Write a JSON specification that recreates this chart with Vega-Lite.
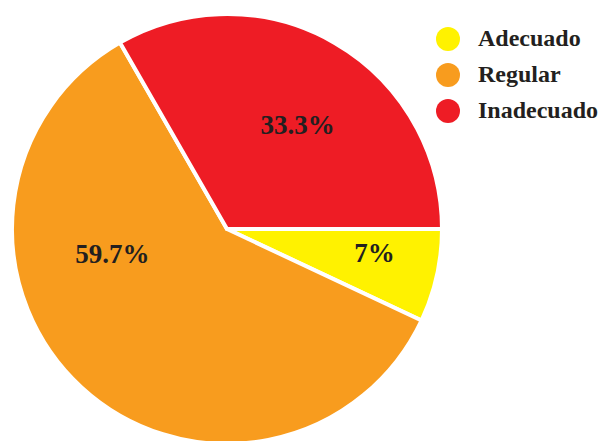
{
  "$schema": "https://vega.github.io/schema/vega-lite/v6.json",
  "autosize": {"type": "none"},
  "padding": {"left": 0, "top": 0, "right": 146, "bottom": 0},
  "width": 454,
  "height": 458,
  "background": "white",
  "config": {
    "view": {"stroke": null},
    "font": "Times New Roman, serif",
    "legend": {"labelFont": "Times New Roman, serif", "labelFontWeight": "bold"}
  },
  "data": {
    "values": [
      {"categoria": "Adecuado", "porcentaje": 7, "orden": 1, "etiqueta": "7%"},
      {"categoria": "Regular", "porcentaje": 59.7, "orden": 2, "etiqueta": "59.7%"},
      {"categoria": "Inadecuado", "porcentaje": 33.3, "orden": 3, "etiqueta": "33.3%"}
    ]
  },
  "transform": [
    {"stack": "porcentaje", "groupby": [], "sort": [{"field": "orden", "order": "ascending"}], "as": ["p0", "p1"]},
    {"calculate": "(datum.p0 + datum.p1) / 2", "as": "pm"}
  ],
  "layer": [
    {
      "mark": {"type": "arc", "outerRadius": 215, "stroke": "white", "strokeWidth": 4},
      "encoding": {
        "theta": {"field": "p0", "type": "quantitative", "scale": {"domain": [0, 100], "range": [1.5708, 7.854]}},
        "theta2": {"field": "p1"},
        "color": {
          "field": "categoria",
          "type": "nominal",
          "scale": {"domain": ["Adecuado", "Regular", "Inadecuado"], "range": ["#FFF200", "#F89C1E", "#EE1C25"]},
          "legend": {
            "title": null,
            "orient": "none",
            "legendX": 436,
            "legendY": 27,
            "padding": 0,
            "symbolType": "circle",
            "symbolSize": 576,
            "symbolStrokeWidth": 0,
            "symbolOpacity": 1,
            "labelFont": "Times New Roman, serif",
            "labelFontWeight": "bold",
            "labelFontSize": 24,
            "labelColor": "#231F20",
            "labelOffset": 18,
            "rowPadding": 12,
            "labelLimit": 300
          }
        }
      }
    },
    {
      "transform": [{"filter": "datum.categoria == 'Inadecuado'"}],
      "mark": {"type": "text", "radius": 125, "dx": 8, "dy": 5, "font": "Times New Roman, serif", "fontWeight": "bold", "fontSize": 27, "color": "#231F20", "align": "center", "baseline": "middle"},
      "encoding": {"theta": {"field": "pm", "type": "quantitative"}, "text": {"field": "etiqueta"}}
    },
    {
      "transform": [{"filter": "datum.categoria == 'Regular'"}],
      "mark": {"type": "text", "radius": 117.6, "dx": -35, "dy": -60, "font": "Times New Roman, serif", "fontWeight": "bold", "fontSize": 27, "color": "#231F20", "align": "center", "baseline": "middle"},
      "encoding": {"theta": {"field": "pm", "type": "quantitative"}, "text": {"field": "etiqueta"}}
    },
    {
      "transform": [{"filter": "datum.categoria == 'Adecuado'"}],
      "mark": {"type": "text", "radius": 149, "dx": 2, "dy": -8, "font": "Times New Roman, serif", "fontWeight": "bold", "fontSize": 27, "color": "#231F20", "align": "center", "baseline": "middle"},
      "encoding": {"theta": {"field": "pm", "type": "quantitative"}, "text": {"field": "etiqueta"}}
    }
  ]
}
